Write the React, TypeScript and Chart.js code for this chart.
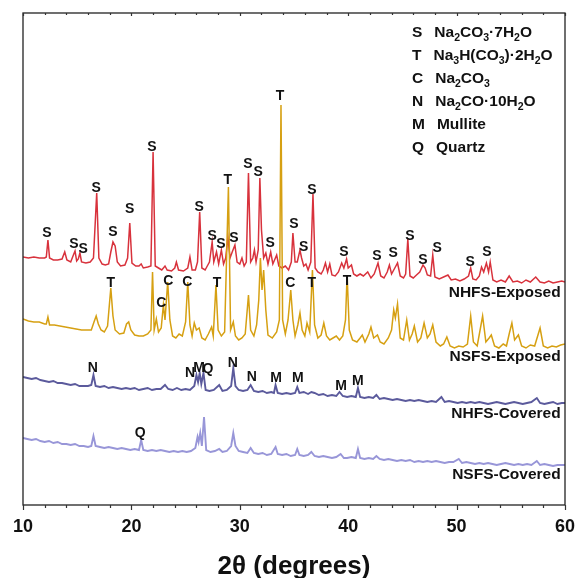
import React, { useEffect, useRef } from "react";
import { Chart, registerables } from "chart.js";

Chart.register(...registerables);

const FONT = '"Liberation Sans", Arial, Helvetica, sans-serif';

// 2θ (degrees), intensity (a.u., offset traces)
const nhfsExposed: [number, number][] = [
  [10.0, 248], [10.5, 247], [11.0, 248], [11.5, 247], [12.0, 247], [12.15, 248], [12.3, 265], [12.45, 247],
  [12.8, 245], [13.2, 245], [13.6, 246], [13.85, 253], [14.05, 245], [14.4, 243], [14.65, 250], [14.8, 254],
  [14.95, 244], [15.1, 246], [15.25, 252], [15.4, 243], [15.8, 242], [16.2, 243], [16.5, 247], [16.8, 312],
  [17.0, 247], [17.3, 241], [17.6, 240], [17.9, 241], [18.1, 253], [18.3, 263], [18.5, 259], [18.7, 243],
  [19.0, 239], [19.4, 240], [19.65, 247], [19.85, 282], [20.05, 242], [20.4, 239], [20.7, 239], [20.9, 241],
  [21.1, 237], [21.5, 238], [21.8, 239], [22.0, 353], [22.2, 239], [22.5, 237], [22.8, 235], [23.1, 239],
  [23.3, 235], [23.7, 234], [24.0, 237], [24.15, 243], [24.35, 235], [24.8, 234], [25.2, 237], [25.4, 248],
  [25.6, 235], [25.9, 235], [26.1, 243], [26.3, 293], [26.5, 237], [26.8, 235], [27.0, 239], [27.2, 243],
  [27.45, 263], [27.6, 243], [27.85, 253], [28.05, 241], [28.3, 255], [28.5, 241], [28.7, 247], [28.9, 268],
  [29.1, 247], [29.3, 253], [29.55, 260], [29.75, 243], [30.0, 241], [30.2, 247], [30.4, 239], [30.6, 243],
  [30.8, 332], [31.0, 243], [31.2, 247], [31.35, 255], [31.5, 243], [31.7, 255], [31.85, 327], [32.0, 275],
  [32.2, 247], [32.4, 252], [32.6, 241], [32.85, 253], [33.05, 241], [33.4, 250], [33.6, 239], [33.9, 237],
  [34.2, 239], [34.5, 235], [34.75, 243], [34.9, 272], [35.1, 243], [35.3, 243], [35.55, 255], [35.7, 247],
  [35.9, 239], [36.1, 241], [36.3, 235], [36.55, 243], [36.75, 311], [36.95, 237], [37.2, 233], [37.5, 231],
  [37.7, 235], [37.9, 242], [38.1, 233], [38.3, 241], [38.5, 230], [38.8, 229], [39.1, 233], [39.4, 242],
  [39.6, 237], [39.85, 246], [40.0, 237], [40.3, 240], [40.5, 231], [40.8, 229], [41.1, 231], [41.4, 229],
  [41.8, 233], [42.1, 227], [42.4, 231], [42.75, 242], [43.0, 229], [43.3, 227], [43.6, 233], [43.8, 240],
  [44.0, 231], [44.3, 237], [44.55, 242], [44.8, 229], [45.1, 227], [45.3, 231], [45.5, 266], [45.7, 229],
  [46.0, 227], [46.3, 230], [46.6, 233], [46.9, 240], [47.1, 237], [47.3, 230], [47.6, 229], [47.8, 250],
  [48.0, 228], [48.4, 226], [48.8, 228], [49.2, 230], [49.5, 225], [49.9, 226], [50.3, 224], [50.7, 226],
  [51.1, 229], [51.3, 237], [51.5, 226], [51.8, 225], [52.1, 229], [52.3, 238], [52.5, 233], [52.75, 242],
  [52.95, 233], [53.1, 243], [53.35, 225], [53.7, 223], [54.1, 225], [54.5, 223], [54.85, 229], [55.2, 223],
  [55.6, 224], [56.0, 222], [56.4, 225], [56.8, 223], [57.3, 228], [57.7, 223], [58.1, 222], [58.5, 224],
  [58.9, 222], [59.3, 223], [59.7, 224], [60.0, 223],
];

const nsfsExposed: [number, number][] = [
  [10.0, 186], [10.5, 184], [11.0, 183], [11.5, 183], [12.0, 181], [12.15, 181], [12.3, 188], [12.45, 180],
  [12.9, 180], [13.4, 179], [13.9, 178], [14.4, 177], [14.9, 176], [15.4, 175], [15.9, 175], [16.3, 175],
  [16.55, 183], [16.75, 189], [16.95, 181], [17.2, 175], [17.5, 173], [17.8, 179], [18.1, 217], [18.3, 189],
  [18.5, 175], [18.9, 171], [19.3, 172], [19.55, 181], [19.75, 183], [19.95, 175], [20.3, 170], [20.7, 169],
  [21.1, 169], [21.5, 171], [21.8, 175], [21.95, 233], [22.1, 175], [22.3, 186], [22.5, 173], [22.75, 177],
  [22.95, 200], [23.1, 185], [23.35, 223], [23.55, 185], [23.8, 169], [24.1, 167], [24.4, 171], [24.7, 169],
  [25.0, 183], [25.2, 223], [25.4, 180], [25.6, 169], [25.8, 182], [26.0, 175], [26.25, 177], [26.5, 167],
  [26.8, 165], [27.1, 171], [27.4, 178], [27.55, 169], [27.8, 220], [28.0, 175], [28.3, 169], [28.6, 173],
  [28.95, 318], [29.15, 175], [29.4, 183], [29.6, 169], [29.9, 165], [30.2, 167], [30.5, 171], [30.8, 210],
  [31.0, 175], [31.3, 169], [31.55, 180], [31.75, 205], [31.9, 247], [32.05, 215], [32.2, 235], [32.4, 195],
  [32.6, 170], [33.0, 167], [33.4, 173], [33.65, 185], [33.8, 400], [33.95, 185], [34.2, 171], [34.45, 185],
  [34.7, 215], [34.9, 185], [35.1, 169], [35.35, 180], [35.55, 192], [35.75, 175], [36.0, 169], [36.2, 182],
  [36.45, 173], [36.7, 235], [36.9, 180], [37.2, 167], [37.5, 170], [37.75, 182], [38.0, 169], [38.3, 165],
  [38.6, 167], [38.9, 169], [39.2, 165], [39.5, 169], [39.75, 185], [39.9, 230], [40.1, 175], [40.4, 165],
  [40.8, 163], [41.1, 167], [41.3, 170], [41.55, 163], [41.9, 171], [42.1, 178], [42.35, 167], [42.7, 170],
  [42.95, 163], [43.3, 161], [43.7, 167], [44.0, 175], [44.2, 195], [44.35, 187], [44.55, 201], [44.8, 167],
  [45.1, 165], [45.4, 185], [45.65, 165], [45.9, 171], [46.1, 179], [46.4, 163], [46.7, 167], [47.0, 182],
  [47.3, 167], [47.55, 171], [47.8, 180], [48.1, 163], [48.5, 159], [48.8, 161], [49.1, 168], [49.4, 159],
  [49.8, 157], [50.2, 159], [50.6, 158], [51.0, 161], [51.3, 189], [51.55, 163], [51.9, 159], [52.1, 171],
  [52.4, 189], [52.7, 163], [53.0, 167], [53.2, 170], [53.5, 159], [53.9, 157], [54.3, 161], [54.6, 159],
  [54.85, 171], [55.1, 182], [55.35, 165], [55.7, 170], [56.0, 159], [56.4, 157], [56.8, 160], [57.2, 159],
  [57.7, 177], [58.0, 159], [58.4, 157], [58.8, 159], [59.2, 158], [59.6, 160], [60.0, 161],
];

const nhfsCovered: [number, number][] = [
  [10.0, 128], [10.4, 127], [10.8, 126], [11.2, 127], [11.6, 125], [12.0, 124], [12.4, 123], [12.8, 124],
  [13.2, 122], [13.6, 122], [14.0, 121], [14.4, 120], [14.8, 121], [15.2, 119], [15.6, 119], [16.0, 119],
  [16.3, 120], [16.5, 130], [16.7, 119], [17.1, 118], [17.5, 119], [17.9, 117], [18.3, 118], [18.7, 117],
  [19.1, 116], [19.5, 117], [19.9, 116], [20.3, 117], [20.7, 115], [21.1, 116], [21.5, 117], [21.9, 115],
  [22.3, 116], [22.7, 116], [23.1, 120], [23.4, 116], [23.8, 115], [24.2, 117], [24.6, 115], [25.0, 116],
  [25.4, 115], [25.8, 119], [26.0, 130], [26.15, 123], [26.3, 132], [26.45, 121], [26.65, 132], [26.85, 115],
  [27.2, 114], [27.6, 115], [28.1, 120], [28.4, 114], [28.8, 115], [29.2, 119], [29.4, 137], [29.6, 119],
  [29.9, 115], [30.3, 114], [30.7, 115], [31.0, 120], [31.3, 114], [31.7, 113], [32.1, 114], [32.5, 112],
  [32.9, 113], [33.15, 112], [33.3, 120], [33.5, 112], [33.9, 111], [34.3, 112], [34.7, 111], [35.1, 112],
  [35.3, 118], [35.5, 112], [35.9, 113], [36.3, 111], [36.6, 113], [36.9, 112], [37.3, 110], [37.7, 111],
  [38.1, 109], [38.5, 110], [38.9, 109], [39.2, 113], [39.5, 109], [39.9, 108], [40.3, 109], [40.7, 108],
  [40.9, 117], [41.1, 108], [41.5, 107], [41.9, 108], [42.3, 107], [42.6, 110], [42.9, 106], [43.3, 107],
  [43.7, 106], [44.1, 105], [44.5, 106], [44.9, 105], [45.3, 104], [45.7, 105], [46.1, 104], [46.5, 105],
  [46.9, 104], [47.3, 103], [47.7, 104], [48.1, 103], [48.6, 108], [48.9, 103], [49.3, 104], [49.7, 103],
  [50.1, 102], [50.5, 103], [50.9, 102], [51.3, 103], [51.7, 102], [52.1, 103], [52.5, 102], [52.9, 101],
  [53.3, 102], [53.7, 103], [54.1, 102], [54.5, 101], [54.9, 102], [55.3, 103], [55.7, 102], [56.1, 101],
  [56.5, 102], [56.9, 103], [57.4, 107], [57.7, 102], [58.1, 101], [58.5, 102], [58.9, 103], [59.3, 101],
  [59.7, 102], [60.0, 102],
];

const nsfsCovered: [number, number][] = [
  [10.0, 67], [10.4, 66], [10.8, 65], [11.2, 66], [11.6, 64], [12.0, 63], [12.4, 64], [12.8, 62],
  [13.2, 63], [13.6, 61], [14.0, 61], [14.4, 60], [14.8, 61], [15.2, 59], [15.6, 59], [16.0, 58],
  [16.3, 59], [16.5, 69], [16.7, 59], [17.1, 58], [17.5, 57], [17.9, 58], [18.3, 57], [18.7, 56],
  [19.1, 57], [19.5, 56], [19.9, 55], [20.3, 56], [20.7, 55], [20.9, 65], [21.1, 55], [21.5, 54],
  [21.9, 55], [22.3, 54], [22.7, 55], [23.1, 54], [23.5, 53], [23.9, 54], [24.3, 53], [24.7, 54],
  [25.1, 53], [25.5, 54], [25.9, 57], [26.1, 68], [26.2, 63], [26.35, 72], [26.5, 59], [26.7, 88],
  [26.9, 55], [27.3, 53], [27.7, 54], [28.1, 56], [28.4, 53], [28.8, 54], [29.2, 59], [29.4, 72],
  [29.6, 59], [29.9, 54], [30.3, 53], [30.7, 52], [31.0, 57], [31.3, 52], [31.7, 51], [32.1, 52],
  [32.5, 50], [32.9, 51], [33.3, 58], [33.5, 51], [33.9, 50], [34.3, 51], [34.7, 49], [35.1, 50],
  [35.3, 56], [35.5, 50], [35.9, 49], [36.3, 50], [36.6, 53], [36.9, 49], [37.3, 48], [37.7, 49],
  [38.1, 48], [38.5, 47], [38.9, 48], [39.3, 51], [39.6, 47], [39.9, 47], [40.3, 48], [40.7, 47],
  [40.9, 56], [41.1, 47], [41.5, 46], [41.9, 47], [42.3, 46], [42.6, 49], [42.9, 46], [43.3, 45],
  [43.7, 46], [44.1, 45], [44.5, 44], [44.9, 45], [45.3, 44], [45.7, 45], [46.1, 43], [46.5, 44],
  [46.9, 43], [47.3, 44], [47.7, 43], [48.1, 44], [48.5, 43], [48.9, 42], [49.3, 43], [49.7, 43],
  [50.2, 46], [50.5, 42], [50.9, 43], [51.3, 42], [51.7, 41], [52.1, 42], [52.5, 41], [52.9, 42],
  [53.3, 41], [53.7, 40], [54.1, 41], [54.5, 42], [54.9, 41], [55.3, 40], [55.7, 41], [56.1, 40],
  [56.5, 41], [56.9, 40], [57.4, 44], [57.7, 40], [58.1, 41], [58.5, 40], [58.9, 39], [59.3, 40],
  [59.7, 40], [60.0, 40],
];

const seriesNames = ["NHFS-Exposed", "NSFS-Exposed", "NHFS-Covered", "NSFS-Covered"];
const seriesNameLevels = [212, 148, 91, 30];

// phase marker labels: letter, 2θ, level
const peakLabels: [string, number, number][] = [
  ["S", 12.2, 272], ["S", 14.7, 261], ["S", 15.55, 256], ["S", 16.75, 317], ["S", 18.3, 273],
  ["S", 19.85, 296], ["S", 21.9, 358], ["S", 26.25, 298], ["S", 27.45, 269], ["S", 28.25, 261],
  ["S", 29.45, 267], ["S", 30.75, 341], ["S", 31.7, 333], ["S", 32.8, 262], ["S", 35.0, 281],
  ["S", 35.9, 258], ["S", 36.65, 315], ["S", 39.6, 253], ["S", 42.65, 249], ["S", 44.15, 252],
  ["S", 45.7, 269], ["S", 46.9, 245], ["S", 48.2, 257], ["S", 51.25, 243], ["S", 52.8, 253],
  ["T", 28.9, 325], ["T", 33.7, 409], ["T", 18.1, 222], ["T", 27.9, 222], ["T", 36.65, 222], ["T", 39.9, 224],
  ["C", 22.75, 202], ["C", 23.4, 224], ["C", 25.15, 223], ["C", 34.65, 222],
  ["N", 16.45, 137], ["N", 25.4, 132], ["M", 26.25, 137], ["Q", 27.05, 136], ["N", 29.35, 142],
  ["N", 31.1, 128], ["M", 33.35, 127], ["M", 35.35, 127], ["M", 39.35, 119], ["M", 40.9, 124],
  ["Q", 20.8, 72],
];

const legendKeys = ["S", "T", "C", "N", "M", "Q"];
const legendPhases = ["Na_2CO_3·7H_2O", "Na_3H(CO_3)·2H_2O", "Na_2CO_3", "Na_2CO·10H_2O", "Mullite", "Quartz"];

const xMajorTicks = [10, 20, 30, 40, 50, 60];
const xMinorStep = 2;

function drawRich(ctx: CanvasRenderingContext2D, text: string, x: number, y: number, size: number) {
  let cx = x;
  for (let i = 0; i < text.length; i++) {
    let ch = text[i];
    let sub = false;
    if (ch === "_") {
      sub = true;
      i++;
      ch = text[i];
    }
    const s = sub ? size * 0.68 : size;
    ctx.font = `bold ${s}px ${FONT}`;
    ctx.fillText(ch, cx, sub ? y + size * 0.3 : y);
    cx += ctx.measureText(ch).width;
  }
}

const decorPlugin = {
  id: "decor",
  afterDraw(chart: any) {
    const ctx: CanvasRenderingContext2D = chart.ctx;
    const { left, right, top, bottom } = chart.chartArea;
    const xs = chart.scales.x;
    const ys = chart.scales.y;
    ctx.save();
    // frame
    ctx.strokeStyle = "#222";
    ctx.lineWidth = 1.3;
    ctx.strokeRect(left, top, right - left, bottom - top);
    // ticks
    ctx.lineWidth = 1.2;
    ctx.strokeStyle = "#333";
    for (let v = xMajorTicks[0]; v <= xMajorTicks[xMajorTicks.length - 1] + 1e-9; v += xMinorStep) {
      const px = Math.round(xs.getPixelForValue(v)) + 0.5;
      const major = xMajorTicks.includes(v);
      ctx.beginPath();
      ctx.moveTo(px, bottom);
      ctx.lineTo(px, bottom + (major ? 5 : 3));
      ctx.moveTo(px, top);
      ctx.lineTo(px, top + (major ? 3 : 2));
      ctx.stroke();
    }
    // tick labels
    ctx.fillStyle = "#111";
    ctx.textAlign = "center";
    ctx.textBaseline = "alphabetic";
    ctx.font = `bold 18px ${FONT}`;
    xMajorTicks.forEach((v) => {
      ctx.fillText(String(v), xs.getPixelForValue(v), 532);
    });
    // axis title
    ctx.font = `bold 26px ${FONT}`;
    ctx.fillText("2θ (degrees)", (left + right) / 2, 574);

    // peak labels
    ctx.textBaseline = "middle";
    ctx.font = `bold 14px ${FONT}`;
    peakLabels.forEach(([t, th, lv]) => {
      ctx.fillText(t, xs.getPixelForValue(th), ys.getPixelForValue(lv));
    });

    // series names
    ctx.textAlign = "right";
    ctx.font = `bold 15.5px ${FONT}`;
    seriesNames.forEach((n, i) => {
      ctx.fillText(n, xs.getPixelForValue(59.6), ys.getPixelForValue(seriesNameLevels[i]));
    });

    // legend
    ctx.textAlign = "left";
    const legendTop = top + 20;
    const rowH = 23;
    legendKeys.forEach((k, i) => {
      const y = legendTop + i * rowH;
      ctx.font = `bold 15.5px ${FONT}`;
      const kx = right - 153;
      ctx.fillText(k, kx, y);
      const kw = ctx.measureText(k).width;
      drawRich(ctx, legendPhases[i], kx + kw + 12, y, 15.5);
    });
    ctx.restore();
  },
};

export default function App() {
  const ref = useRef<HTMLCanvasElement | null>(null);
  useEffect(() => {
    if (!ref.current) return;
    const mk = (d: [number, number][]) => d.map(([x, y]) => ({ x, y }));
    const chart = new Chart(ref.current, {
      type: "line",
      data: {
        datasets: [
          { label: seriesNames[0], data: mk(nhfsExposed), borderColor: "#d8323c", borderWidth: 1.5, order: 2 },
          { label: seriesNames[1], data: mk(nsfsExposed), borderColor: "#d6a012", borderWidth: 1.5, order: 1 },
          { label: seriesNames[2], data: mk(nhfsCovered), borderColor: "#5b5a9c", borderWidth: 1.9, order: 3 },
          { label: seriesNames[3], data: mk(nsfsCovered), borderColor: "#9896d8", borderWidth: 1.9, order: 4 },
        ],
      },
      options: {
        responsive: false,
        animation: false,
        parsing: false as any,
        layout: { padding: { left: 23, right: 10, top: 13, bottom: 73 } },
        elements: { point: { radius: 0 }, line: { tension: 0 } },
        plugins: { legend: { display: false }, tooltip: { enabled: false } },
        scales: {
          x: { type: "linear", min: 10, max: 60, display: false },
          y: { type: "linear", min: 0, max: 492, display: false },
        },
      },
      plugins: [decorPlugin],
    });
    return () => chart.destroy();
  }, []);
  return (
    <div style={{ position: "absolute", left: 0, top: 0, width: 575, height: 578, background: "#fff" }}>
      <canvas ref={ref} width={575} height={578} style={{ width: 575, height: 578 }} />
    </div>
  );
}
